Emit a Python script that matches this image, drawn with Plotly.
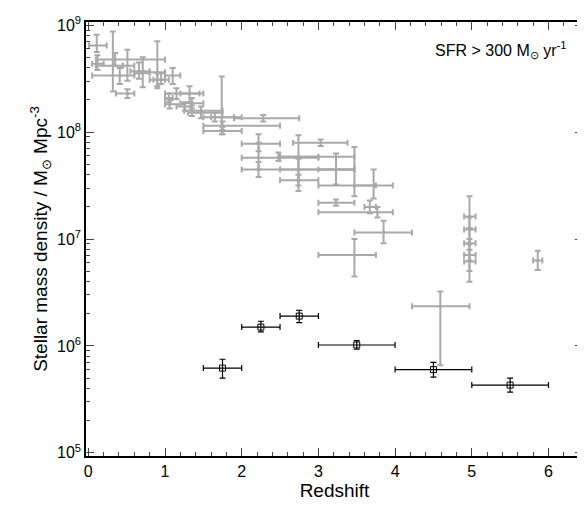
import plotly.graph_objects as go

# gray literature points: redshift, z range, log10 density and its range
gray_z = [0.11, 0.12, 0.32, 0.35, 0.41, 0.51, 0.51, 0.66, 0.71, 0.90, 0.90, 0.95, 1.10, 1.15, 1.32, 1.05, 1.06,
          1.35, 1.26, 1.35, 1.47, 1.65, 1.74, 2.28, 1.75, 1.75, 2.22, 3.03, 2.22, 2.48, 2.74, 2.22, 2.74, 2.74,
          3.23, 3.23, 3.47, 3.47, 3.72, 3.67, 3.77, 3.85, 4.97, 4.97, 4.97, 4.97, 4.97, 5.86, 4.59]
gray_zlo = [0.01, 0.05, 0.10, 0.10, 0.05, 0.36, 0.45, 0.55, 0.60, 0.60, 0.80, 0.85, 1.00, 1.00, 1.20, 1.00, 1.00,
            1.20, 1.15, 1.25, 1.30, 1.50, 1.60, 1.90, 1.50, 1.50, 2.00, 2.67, 2.00, 2.50, 2.50, 2.00, 2.50, 2.50,
            3.00, 3.00, 3.00, 3.00, 3.47, 3.60, 3.00, 3.47, 4.90, 4.90, 4.90, 4.90, 4.90, 5.80, 4.22]
gray_zhi = [0.24, 0.20, 0.45, 1.00, 0.60, 0.60, 0.60, 0.80, 0.80, 1.00, 1.00, 1.05, 1.20, 1.50, 1.45, 1.10, 1.26,
            1.50, 1.35, 1.75, 1.75, 2.00, 1.90, 2.75, 2.50, 2.00, 2.50, 3.38, 3.00, 3.00, 3.47, 3.47, 3.47, 3.00,
            3.47, 3.47, 3.75, 3.75, 3.97, 3.75, 3.97, 4.22, 5.05, 5.05, 5.05, 5.05, 5.05, 5.92, 4.97]
gray_logm = [8.81, 8.64, 8.62, 8.68, 8.53, 8.36, 8.62, 8.57, 8.55, 8.56, 8.49, 8.49, 8.53, 8.36, 8.36, 8.32, 8.26,
             8.27, 8.24, 8.20, 8.18, 8.14, 8.14, 8.13, 8.06, 8.01, 7.89, 7.90, 7.76, 7.77, 7.77, 7.65, 7.65, 7.55,
             7.65, 7.34, 7.50, 6.85, 7.50, 7.30, 7.25, 7.06, 7.21, 7.09, 6.96, 6.85, 6.79, 6.80, 6.37]
gray_loglo = [8.75, 8.58, 8.38, 8.62, 8.45, 8.32, 8.48, 8.50, 8.42, 8.41, 8.43, 8.45, 8.45, 8.31, 8.28, 8.28, 8.22,
              8.22, 8.20, 8.15, 8.13, 8.10, 7.98, 8.10, 8.02, 7.98, 7.82, 7.87, 7.65, 7.73, 7.45, 7.58, 7.55, 7.50,
              7.51, 7.31, 7.40, 6.65, 7.38, 7.24, 7.20, 6.96, 7.10, 6.95, 6.80, 6.70, 6.60, 6.71, 5.82]
gray_loghi = [8.91, 8.72, 8.94, 8.74, 8.60, 8.40, 8.77, 8.65, 8.70, 8.85, 8.55, 8.55, 8.60, 8.41, 8.43, 8.36, 8.30,
              8.32, 8.28, 8.25, 8.24, 8.18, 8.52, 8.16, 8.10, 8.05, 7.98, 7.93, 7.90, 7.81, 7.97, 7.72, 7.75, 7.60,
              7.80, 7.37, 7.86, 7.00, 7.65, 7.36, 7.30, 7.17, 7.40, 7.20, 7.10, 7.00, 6.90, 6.89, 6.51]

# black points (this work)
blk_z = [1.75, 2.25, 2.75, 3.5, 4.5, 5.5]
blk_zlo = [1.5, 2.0, 2.5, 3.0, 4.0, 5.0]
blk_zhi = [2.0, 2.5, 3.0, 4.0, 5.0, 6.0]
blk_m = [6.2e5, 1.5e6, 1.9e6, 1.02e6, 6.0e5, 4.3e5]
blk_mlo = [5.0e5, 1.35e6, 1.65e6, 0.93e6, 5.1e5, 3.7e5]
blk_mhi = [7.5e5, 1.7e6, 2.15e6, 1.12e6, 7.0e5, 5.0e5]

gm = [10 ** v for v in gray_logm]
gcol = "#a9a9a9"

fig = go.Figure()
fig.add_trace(go.Scatter(
    x=gray_z, y=gm, mode="markers", marker=dict(size=3, color=gcol),
    error_x=dict(type="data", symmetric=False,
                 array=[h - z for h, z in zip(gray_zhi, gray_z)],
                 arrayminus=[z - l for l, z in zip(gray_zlo, gray_z)],
                 color=gcol, thickness=2, width=3),
    error_y=dict(type="data", symmetric=False,
                 array=[10 ** h - m for h, m in zip(gray_loghi, gm)],
                 arrayminus=[m - 10 ** l for l, m in zip(gray_loglo, gm)],
                 color=gcol, thickness=2, width=3),
))
fig.add_trace(go.Scatter(
    x=blk_z, y=blk_m, mode="markers",
    marker=dict(symbol="square-open", size=6, color="black", line=dict(width=1)),
    error_x=dict(type="data", symmetric=False,
                 array=[h - z for h, z in zip(blk_zhi, blk_z)],
                 arrayminus=[z - l for l, z in zip(blk_zlo, blk_z)],
                 color="black", thickness=1.2, width=3),
    error_y=dict(type="data", symmetric=False,
                 array=[h - m for h, m in zip(blk_mhi, blk_m)],
                 arrayminus=[m - l for l, m in zip(blk_mlo, blk_m)],
                 color="black", thickness=1.2, width=3),
))

fig.add_annotation(x=0.97, y=0.965, xref="paper", yref="paper", xanchor="right", yanchor="top",
                   showarrow=False, text="SFR > 300 M<sub>⊙</sub> yr<sup>-1</sup>",
                   font=dict(size=16, color="black"))

fig.update_layout(
    width=585, height=508, showlegend=False,
    plot_bgcolor="white", paper_bgcolor="white",
    margin=dict(l=78, r=10, t=6, b=60),
    font=dict(family="Liberation Sans, Arial", size=16, color="black"),
)
fig.update_xaxes(range=[-0.03, 6.45], tickvals=[0, 1, 2, 3, 4, 5, 6], ticks="inside", ticklen=8,
                 minor=dict(dtick=0.2, ticks="inside", ticklen=4), mirror="allticks",
                 showline=True, linecolor="black", linewidth=1.5, showgrid=False, zeroline=False,
                 title=dict(text="Redshift", standoff=2))
fig.update_yaxes(type="log", range=[4.97, 9.03], ticks="inside", ticklen=8,
                 tickvals=[1e5, 1e6, 1e7, 1e8, 1e9],
                 ticktext=["10<sup>5</sup>", "10<sup>6</sup>", "10<sup>7</sup>", "10<sup>8</sup>", "10<sup>9</sup>"],
                 minor=dict(ticks="inside", ticklen=4, tickvals=[k * 10 ** e for e in range(5, 9) for k in range(2, 10)]),
                 mirror="allticks", showline=True, linecolor="black", linewidth=1.5, showgrid=False,
                 title=dict(text="Stellar mass density / M<sub>⊙</sub> Mpc<sup>-3</sup>", standoff=4))

fig.write_html("out.html")
